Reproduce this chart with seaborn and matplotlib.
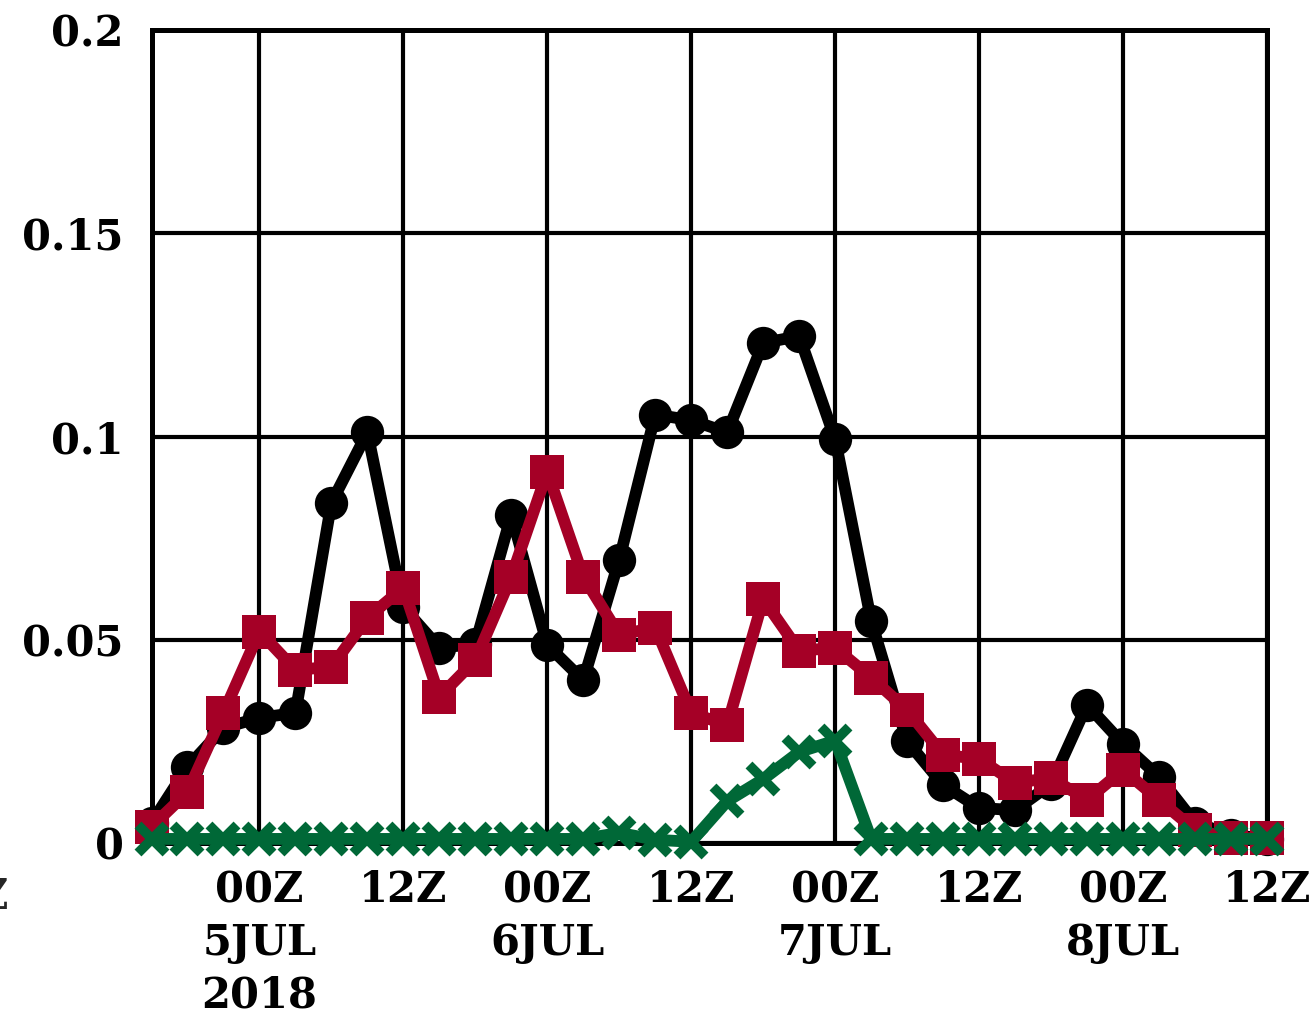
import matplotlib
matplotlib.use("Agg")
import matplotlib.pyplot as plt
import numpy as np
import pandas as pd
import seaborn as sns

# 3-hourly valid times, 15Z 4 Jul 2018 to 12Z 8 Jul 2018
times = pd.date_range("2018-07-04 15:00", "2018-07-08 12:00", freq="3h")

black_vals = [0.005, 0.0187, 0.0283, 0.0308, 0.032, 0.0837, 0.101, 0.058,
              0.048, 0.049, 0.0807, 0.0487, 0.040, 0.0697, 0.1054, 0.104,
              0.101, 0.123, 0.1247, 0.0993, 0.0547, 0.025, 0.0143, 0.0086,
              0.0081, 0.0145, 0.034, 0.0244, 0.0163, 0.005, 0.002, 0.001]
red_vals = [0.004, 0.0125, 0.032, 0.052, 0.0426, 0.0433, 0.0554, 0.0628,
            0.036, 0.045, 0.0655, 0.0913, 0.0655, 0.0512, 0.053, 0.032,
            0.029, 0.060, 0.0473, 0.048, 0.0407, 0.0327, 0.0217, 0.0207,
            0.0148, 0.016, 0.0106, 0.018, 0.0106, 0.0032, 0.0012, 0.0012]
green_vals = [0.001, 0.001, 0.001, 0.001, 0.001, 0.001, 0.001, 0.001,
              0.001, 0.001, 0.001, 0.001, 0.001, 0.0025, 0.0008, 0.0003,
              0.0103, 0.0157, 0.0224, 0.0252, 0.001, 0.001, 0.001, 0.001,
              0.001, 0.001, 0.001, 0.001, 0.001, 0.001, 0.001, 0.001]

tick_times = pd.date_range("2018-07-05 00:00", "2018-07-08 12:00", freq="12h")
tick_labels = ["00Z\n5JUL\n2018", "12Z", "00Z\n6JUL", "12Z",
               "00Z\n7JUL", "12Z", "00Z\n8JUL", "12Z"]
y_ticks = [0, 0.05, 0.1, 0.15, 0.2]
y_labels = ["0", "0.05", "0.1", "0.15", "0.2"]

RED = "#a50026"
GREEN = "#006837"

sns.set_style("white")
plt.rcParams["font.family"] = ["DejaVu Serif"]
plt.rcParams["font.weight"] = "bold"

W, H = 1316, 1016
fig = plt.figure(figsize=(W / 100, H / 100), dpi=100)
ax = fig.add_axes([151.5 / W, 173 / H, 1115.5 / W, 813 / H])

sns.lineplot(x=times, y=black_vals, ax=ax, color="black", linewidth=8.5,
             marker="o", markersize=24, markeredgewidth=0, clip_on=False,
             zorder=3)
sns.lineplot(x=times, y=red_vals, ax=ax, color=RED, linewidth=8.5,
             marker="s", markersize=24, markeredgewidth=0, clip_on=False,
             zorder=4)
sns.lineplot(x=times, y=green_vals, ax=ax, color=GREEN, linewidth=8.5,
             marker="x", markersize=20, markeredgewidth=7,
             markeredgecolor=GREEN, clip_on=False, zorder=5)

ax.set_xlim(times[0], times[-1])
ax.set_ylim(0, 0.2)
ax.set_xticks(tick_times)
ax.set_xticklabels(tick_labels, linespacing=1.32)
ax.set_yticks(y_ticks)
ax.set_yticklabels(y_labels)
ax.set_xlabel("")
ax.set_ylabel("")

ax.grid(True, color="black", linewidth=3)
ax.set_axisbelow(True)
for sp in ax.spines.values():
    sp.set_visible(True)
    sp.set_color("black")
    sp.set_linewidth(3.6)
ax.tick_params(axis="both", direction="out", length=11, width=3.6,
               color="black", labelsize=30, labelcolor="black")
ax.tick_params(axis="x", pad=8)
ax.tick_params(axis="y", pad=9)

# partial label running off the left edge
fig.text(9 / W, (H - 909) / H, "12Z", ha="right", va="baseline",
         fontsize=30, fontweight="bold")

fig.savefig("out.png", dpi=100)
